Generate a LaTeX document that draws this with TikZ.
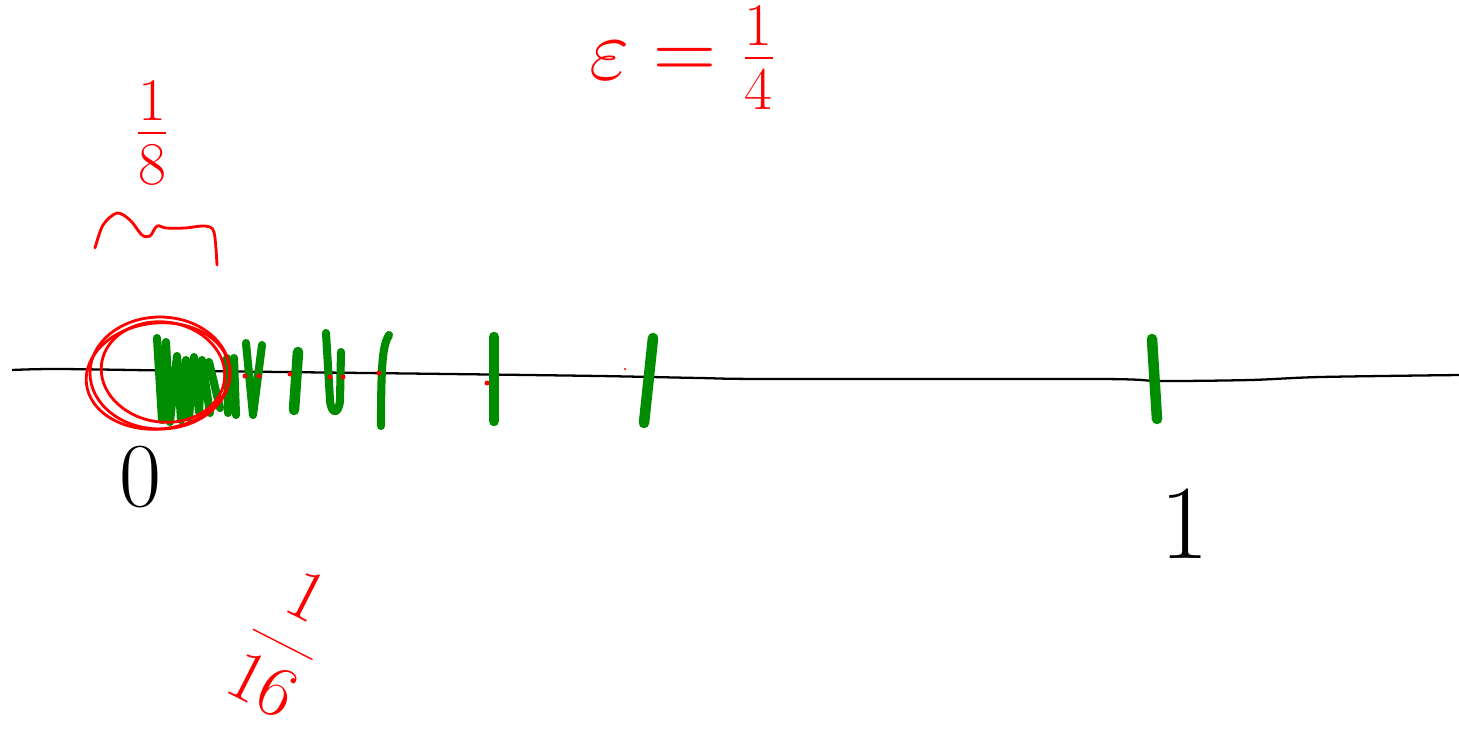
\documentclass[tikz,border=0pt]{standalone}
\begin{document}
\begin{tikzpicture}[x=0.1mm,y=-0.1mm,
  axis/.style={line width=0.65pt,black},
  greentick/.style={line width=2.3pt,color=green!55!black,line cap=round,line join=round},
  redink/.style={line width=0.8pt,red,line cap=round,line join=round},
  redtext/.style={text=red,inner sep=0pt,font=\fontsize{24}{28}\selectfont},
  handnum/.style={font=\fontsize{26}{30}\selectfont}]
  \useasboundingbox (0,0) rectangle (1459,749);
  \draw[axis] plot[smooth] coordinates {(12,370) (60,369) (200,371) (450,374) (600,376) (700,378) (770,379) (1100,379) (1160,381) (1250,380) (1320,377) (1459,375)};
  \draw[greentick] (157,338) -- (162,420) -- (166,342) -- (170,422) -- (177,356) -- (181,420) -- (186,360) -- (189,418) -- (194,357) -- (199,412) -- (202,360) -- (210,413);
  \draw[greentick] (209,362) -- (220,408);
  \draw[greentick] (227,358) -- (228,413);
  \draw[greentick] (234,358) -- (236,415);
  \draw[greentick] (246,343) -- (253,415) -- (262,345);
  \draw[greentick,line width=3pt] (298,352) -- (294,410);
  \draw[greentick] (326,333) -- (330,400) .. controls (331,415) and (339,415) .. (340,400) -- (341,352);
  \draw[greentick] (389,335) .. controls (383,345) and (381,360) .. (381,426);
  \draw[greentick,line width=3pt] (494,337) -- (494,421);
  \draw[greentick,line width=3pt] (653,338) -- (644,423);
  \draw[greentick,line width=3pt] (1152,339) -- (1157,419);
  \foreach \px/\py in {245/376,259/376,290/374,330/377,343/377,379/373,487/383}
    \fill[red] (\px,\py) circle (2.5);
  \fill[red] (625,369) circle (1.2);
  \draw[redink] (160,373) ellipse [x radius=70,y radius=56];
  \draw[redink,rotate around={-8:(163,372)}] (163,372) ellipse [x radius=62,y radius=50];
  \draw[redink,rotate around={6:(158,376)}] (158,376) ellipse [x radius=72,y radius=53];
  \draw[redink] plot[smooth] coordinates {(95,248) (103,225) (117,213) (130,220) (142,235) (150,236) (157,226) (166,228) (185,228) (205,226) (214,232) (217,265)};
  \node[redtext] (eps) at (683,58) {$\varepsilon = \frac{1}{4}$};
  \node[redtext,font=\fontsize{26}{30}\selectfont] (eighth) at (152,133) {$\frac{1}{8}$};
  \node[redtext,font=\fontsize{21}{25}\selectfont,rotate=-27] (sixteenth) at (285,640) {$\displaystyle\frac{1}{16}$};
  \node[handnum] (zero) at (140,477) {0};
  \node[handnum,font=\fontsize{30}{34}\selectfont] (one) at (1185,524) {1};
\end{tikzpicture}
\end{document}
